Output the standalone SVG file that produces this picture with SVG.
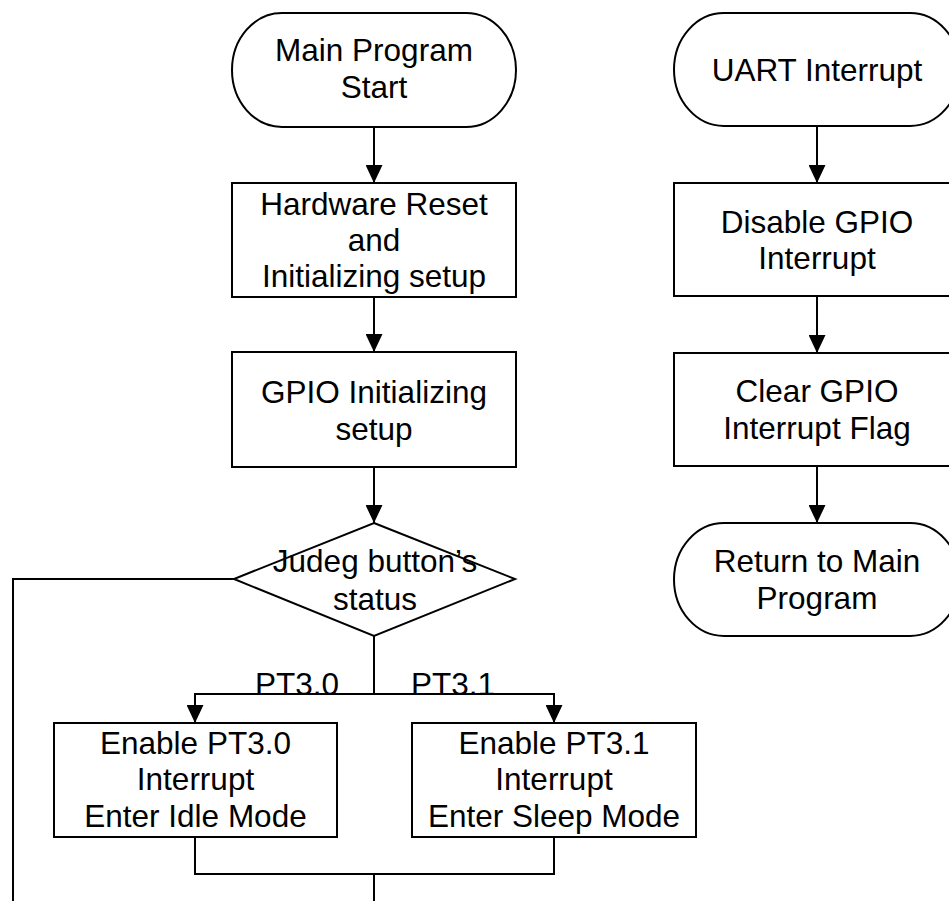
<svg xmlns="http://www.w3.org/2000/svg" width="949" height="901" viewBox="0 0 949 901">
  <style>
    .shape { fill: #ffffff; stroke: #000000; stroke-width: 2; }
    .wire { fill: none; stroke: #000000; stroke-width: 2; }
    .label { font-family: "Liberation Sans", Arial, sans-serif; font-size: 31.5px; fill: #000000; text-anchor: middle; }
    .tag { font-family: "Liberation Sans", Arial, sans-serif; font-size: 31.5px; fill: #000000; }
  </style>
  <defs>
    <marker id="arrow" markerUnits="userSpaceOnUse" markerWidth="18" markerHeight="17" refX="18" refY="8.5" orient="auto">
      <path d="M0,0 L18,8.5 L0,17 Z" fill="#000000"/>
    </marker>
  </defs>
  <rect width="949" height="901" fill="#ffffff"/>

  <!-- connectors -->
  <g id="connectors">
    <line class="wire" x1="374" y1="127" x2="374" y2="183" marker-end="url(#arrow)"/>
    <line class="wire" x1="374" y1="297" x2="374" y2="352" marker-end="url(#arrow)"/>
    <line class="wire" x1="374" y1="467" x2="374" y2="523" marker-end="url(#arrow)"/>
    <polyline class="wire" points="374,636 374,694"/>
    <polyline class="wire" points="374,694 195,694 195,723" marker-end="url(#arrow)"/>
    <polyline class="wire" points="374,694 554,694 554,723" marker-end="url(#arrow)"/>
    <polyline class="wire" points="195,837 195,874 554,874 554,837"/>
    <line class="wire" x1="374" y1="874" x2="374" y2="901"/>
    <polyline class="wire" points="234,579 13,579 13,901"/>
    <line class="wire" x1="817" y1="126" x2="817" y2="183" marker-end="url(#arrow)"/>
    <line class="wire" x1="817" y1="296" x2="817" y2="353" marker-end="url(#arrow)"/>
    <line class="wire" x1="817" y1="466" x2="817" y2="523" marker-end="url(#arrow)"/>
    <text class="tag" x="255" y="695">PT3.0</text>
    <text class="tag" x="411" y="695">PT3.1</text>
  </g>

  <!-- main program column -->
  <g id="main-start">
    <rect class="shape" x="232" y="13" width="284" height="114" rx="50" ry="57"/>
    <text class="label" x="374" y="61">Main Program</text>
    <text class="label" x="374" y="98">Start</text>
  </g>
  <g id="hw-reset">
    <rect class="shape" x="232" y="183" width="284" height="114"/>
    <text class="label" x="374" y="215">Hardware Reset</text>
    <text class="label" x="374" y="251">and</text>
    <text class="label" x="374" y="287">Initializing setup</text>
  </g>
  <g id="gpio-init">
    <rect class="shape" x="232" y="352" width="284" height="115"/>
    <text class="label" x="374" y="403">GPIO Initializing</text>
    <text class="label" x="374" y="440">setup</text>
  </g>
  <g id="judge-button">
    <polygon class="shape" points="374,523 515,579 374,636 234,579"/>
    <text class="label" x="375" y="572">Judeg button’s</text>
    <text class="label" x="375" y="610">status</text>
  </g>
  <g id="idle-mode">
    <rect class="shape" x="54" y="723" width="283" height="114"/>
    <text class="label" x="195.5" y="754">Enable PT3.0</text>
    <text class="label" x="195.5" y="790">Interrupt</text>
    <text class="label" x="195.5" y="827">Enter Idle Mode</text>
  </g>
  <g id="sleep-mode">
    <rect class="shape" x="412" y="723" width="284" height="114"/>
    <text class="label" x="554" y="754">Enable PT3.1</text>
    <text class="label" x="554" y="790">Interrupt</text>
    <text class="label" x="554" y="827">Enter Sleep Mode</text>
  </g>

  <!-- UART interrupt column -->
  <g id="uart-start">
    <rect class="shape" x="674" y="13" width="286" height="113" rx="50" ry="56.5"/>
    <text class="label" x="817" y="81">UART Interrupt</text>
  </g>
  <g id="disable-gpio">
    <rect class="shape" x="674" y="183" width="286" height="113"/>
    <text class="label" x="817" y="233">Disable GPIO</text>
    <text class="label" x="817" y="269">Interrupt</text>
  </g>
  <g id="clear-flag">
    <rect class="shape" x="674" y="353" width="286" height="113"/>
    <text class="label" x="817" y="402">Clear GPIO</text>
    <text class="label" x="817" y="439">Interrupt Flag</text>
  </g>
  <g id="return-main">
    <rect class="shape" x="674" y="523" width="286" height="113" rx="50" ry="56.5"/>
    <text class="label" x="817" y="572">Return to Main</text>
    <text class="label" x="817" y="609">Program</text>
  </g>
</svg>
